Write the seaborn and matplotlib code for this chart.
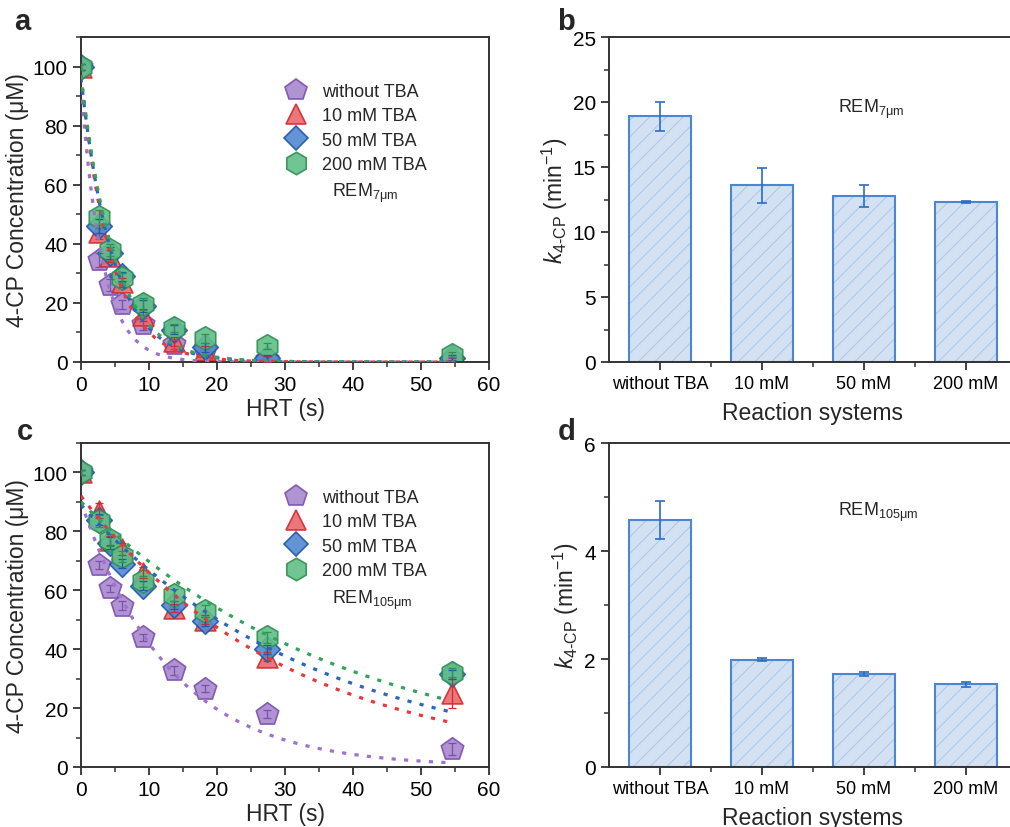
import numpy as np
import pandas as pd
import matplotlib
matplotlib.use('Agg')
import matplotlib.pyplot as plt
import seaborn as sns
from matplotlib.lines import Line2D
from matplotlib.ticker import MultipleLocator, FixedLocator

sns.set_style('ticks')
plt.rcParams['font.family'] = ['Liberation Sans', 'DejaVu Sans']
plt.rcParams['mathtext.fontset'] = 'custom'
plt.rcParams['mathtext.rm'] = 'Liberation Sans'
plt.rcParams['mathtext.it'] = 'Liberation Sans:italic'
plt.rcParams['mathtext.bf'] = 'Liberation Sans:bold'
plt.rcParams['hatch.linewidth'] = 0.7

# ---------------- data ----------------
hrt = [0, 2.7, 4.2, 6.1, 9.1, 13.7, 18.2, 27.3, 54.5]
series = ['without TBA', '10 mM TBA', '50 mM TBA', '200 mM TBA']

# panel a (REM 7um)
a_without = [100, 34.5, 26, 19.5, 13, 6, 4, 1, 0.5]
a_10mM = [100, 44, 36, 27, 16, 7, 4, 1, 1]
a_50mM = [100, 46, 37, 29, 19, 11, 5, 1.5, 1.5]
a_200mM = [100, 49, 38, 28.5, 19.5, 11.5, 8, 5.5, 2.5]
a_err = [1.0, 2.5, 2.0, 1.5, 2.0, 1.5, 1.5, 1.0, 0.8]

# panel c (REM 105um)
c_without = [100, 68.6, 60.7, 54.8, 44, 32.8, 26.6, 18, 6.2]
c_10mM = [100, 87, 77, 74, 66, 54, 50, 37.5, 25]
c_50mM = [100, 84, 76, 69, 61.5, 55, 49.5, 40, 31.5]
c_200mM = [100, 83.5, 77, 71.5, 63, 58.5, 53, 44, 32]
c_err_without = [0.8, 1.5, 1.2, 1.5, 1.2, 1.5, 1.2, 1.5, 2.0]
c_err_10mM = [0.8, 2.5, 1.5, 2.0, 2.0, 1.5, 1.5, 1.5, 5.0]
c_err_50mM = [0.8, 2.0, 2.0, 1.5, 1.5, 1.5, 1.5, 1.5, 1.5]
c_err_200mM = [0.8, 2.0, 2.0, 2.0, 2.0, 2.0, 2.0, 2.0, 1.5]

# first-order fit parameters (C0 in uM, k in min^-1)
fit_c0_a = [93, 97, 96, 97]
fit_c0_c = [90, 92, 89, 90]
fit_tmax_c = [54, 54, 54.5, 53]

# bar panels
systems = ['without TBA', '10 mM', '50 mM', '200 mM']
k_7um = [18.9, 13.6, 12.75, 12.3]
k_7um_err = [1.1, 1.35, 0.85, 0.1]
k_105um = [4.57, 1.99, 1.72, 1.53]
k_105um_err = [0.35, 0.03, 0.04, 0.05]

# ---------------- styles ----------------
markers = ['p', '^', 'D', 'h']
msizes = [17, 15, 13, 17]
faces = ['#a887cc', '#e9686d', '#5289d2', '#62bf86']
edges = ['#7a4fb0', '#d12a30', '#1f58a8', '#2f8f55']
line_cols = ['#9b72cc', '#e8383e', '#2a66c0', '#2fa45a']

W, H = 1010, 828
fig = plt.figure(figsize=(W / 100, H / 100), dpi=100)

def px_axes(l, r, t, b):
    return fig.add_axes([l / W, 1 - b / H, (r - l) / W, (b - t) / H])

ax_a = px_axes(81, 489, 38, 363)
ax_b = px_axes(609, 1017, 38, 363)
ax_c = px_axes(81, 489, 444, 768)
ax_d = px_axes(609, 1017, 444, 768)

spine_col = '#333333'
for ax in (ax_a, ax_b, ax_c, ax_d):
    for s in ax.spines.values():
        s.set_linewidth(1.4)
        s.set_color(spine_col)
    ax.tick_params(which='major', direction='out', length=6, width=1.3,
                   colors=spine_col, labelcolor='black')
    ax.tick_params(which='minor', direction='out', length=3.5, width=1.1,
                   colors=spine_col)


def scatter_panel(ax, data, errs, c0s, k_min, tmaxs, rem_text, rem_xy, leg_xy):
    # points
    for i in range(4):
        df = pd.DataFrame({'HRT': hrt, 'C': data[i]})
        ax.errorbar(hrt, data[i], yerr=errs[i], fmt='none', ecolor=edges[i],
                    elinewidth=0.9, capsize=3, capthick=0.9, zorder=3 + i * 0.1)
        sns.scatterplot(data=df, x='HRT', y='C', ax=ax, marker=markers[i],
                        s=msizes[i] ** 2, color=faces[i], edgecolor=edges[i],
                        linewidth=1.2, alpha=0.9, zorder=2 + i * 0.1, legend=False)
    # fit curves
    for i in range(4):
        t = np.linspace(0, tmaxs[i], 200)
        fit = pd.DataFrame({'HRT': t, 'C': c0s[i] * np.exp(-k_min[i] / 60 * t)})
        sns.lineplot(data=fit, x='HRT', y='C', ax=ax, color=line_cols[i],
                     linewidth=2.3, linestyle=(0, (1.3, 2.6)), zorder=5)
    ax.set_xlim(0, 60)
    ax.set_ylim(0, 110)
    ax.xaxis.set_major_locator(MultipleLocator(10))
    ax.xaxis.set_minor_locator(MultipleLocator(5))
    ax.set_yticks([0, 20, 40, 60, 80, 100])
    ax.yaxis.set_minor_locator(MultipleLocator(10))
    ax.tick_params(labelsize=15)
    ax.set_xlabel('HRT (s)', fontsize=16.5, labelpad=2)
    ax.set_ylabel('4-CP Concentration (μM)', fontsize=16.5, labelpad=3)
    handles = [Line2D([], [], linestyle='none', marker=markers[i],
                      markersize=msizes[i] * 0.95, markerfacecolor=faces[i],
                      markeredgecolor=edges[i], markeredgewidth=1.2, alpha=0.9)
               for i in range(4)]
    ax.legend(handles, series, loc='upper left', bbox_to_anchor=leg_xy,
              frameon=False, fontsize=13, handletextpad=0.75, labelspacing=0.4,
              borderaxespad=0, handlelength=1.4)
    ax.text(*rem_xy, rem_text, transform=ax.transAxes, fontsize=13,
            ha='left', va='center')


scatter_panel(ax_a, [a_without, a_10mM, a_50mM, a_200mM], [a_err] * 4, fit_c0_a,
              k_7um, [55, 55, 55, 55], r'REM$_{\mathrm{7μm}}$',
              (251 / 408, 1 - (193 - 38) / 325), (195 / 408, 1 - (77 - 38) / 325))
scatter_panel(ax_c, [c_without, c_10mM, c_50mM, c_200mM],
              [c_err_without, c_err_10mM, c_err_50mM, c_err_200mM], fit_c0_c,
              k_105um, fit_tmax_c, r'REM$_{\mathrm{105μm}}$',
              (251 / 408, 1 - (600 - 444) / 324), (195 / 408, 1 - (483 - 444) / 324))


def bar_panel(ax, vals, errs, ymax, major, minor, rem_text, rem_xy):
    df = pd.DataFrame({'sys': systems, 'k': vals})
    sns.barplot(data=df, x='sys', y='k', ax=ax, width=0.6, color='#d3e1f3',
                edgecolor='#a9c6ea', linewidth=0, hatch='//', errorbar=None,
                saturation=1, zorder=1)
    sns.barplot(data=df, x='sys', y='k', ax=ax, width=0.6, facecolor='none',
                edgecolor='#4a86d2', linewidth=1.5, errorbar=None, zorder=2)
    ax.errorbar(range(4), vals, yerr=errs, fmt='none', ecolor='#2c6cc4',
                elinewidth=1.2, capsize=3.5, capthick=1.2, zorder=3)
    ax.set_xlim(-0.5, 3.5)
    ax.set_ylim(0, ymax)
    ax.yaxis.set_major_locator(MultipleLocator(major))
    ax.yaxis.set_minor_locator(MultipleLocator(minor))
    ax.xaxis.set_minor_locator(FixedLocator([0.5, 1.5, 2.5]))
    ax.tick_params(axis='x', which='minor', bottom=True, length=3.5)
    ax.tick_params(axis='y', labelsize=15)
    ax.tick_params(axis='x', labelsize=13)
    ax.set_xlabel('Reaction systems', fontsize=16.5, labelpad=6)
    ax.set_ylabel(r'$k_{\mathrm{4\text{-}CP}}$ (min$^{\mathrm{-1}}$)', fontsize=16.5, labelpad=2)
    ax.spines['right'].set_visible(False)
    ax.text(*rem_xy, rem_text, transform=ax.transAxes, fontsize=13,
            ha='left', va='center')


bar_panel(ax_b, k_7um, k_7um_err, 25, 5, 2.5, r'REM$_{\mathrm{7μm}}$',
          (229 / 408, 1 - (109 - 38) / 325))
bar_panel(ax_d, k_105um, k_105um_err, 6, 2, 1, r'REM$_{\mathrm{105μm}}$',
          (229 / 408, 1 - (512 - 444) / 324))

# panel letters
for letter, (x, y) in zip('abcd', [(22, 22), (566, 22), (25, 432), (567, 432)]):
    fig.text(x / W, 1 - y / H, letter, fontsize=21, fontweight='bold',
             ha='center', va='center')

fig.savefig('out.png', dpi=100)
